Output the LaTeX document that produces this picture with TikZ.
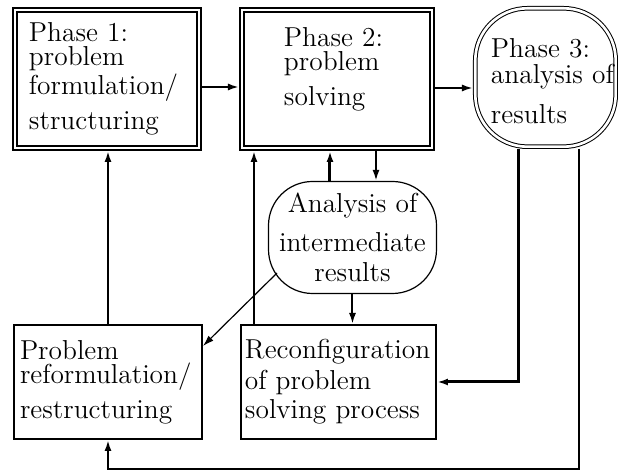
\documentclass[tikz,border=0pt]{standalone}
\usetikzlibrary{arrows.meta}

\begin{document}
\begin{tikzpicture}[x=0.5pt,y=-0.5pt,
		every node/.style={inner sep=0pt, font=\fontsize{13.7}{12}\selectfont},
		phasebox/.style={draw, double, line width=1pt, double distance=1pt, outer sep=1.5pt, align=left},
		stepbox/.style={draw, line width=1pt, align=left},
		arr/.style={-{Latex[length=5.5pt,width=3.5pt]}, line width=1pt},
		thickarr/.style={arr, line width=1.5pt},
		thinarr/.style={arr, line width=0.6pt}]
		\lineskiplimit=-20pt
		\useasboundingbox (0,0) rectangle (618,470);

		% Phases
		\node[phasebox, minimum width=92pt, minimum height=69pt, text width=78pt] (phaseone) at (107,79)
			{Phase 1:\\problem\\[0.5pt]formulation/\\[4pt]structuring};
		\node[phasebox, line width=1.1pt, double distance=0.9pt, minimum width=95pt, minimum height=69pt, text width=53pt, text depth=42pt] (phasetwo) at (337,79)
			{Phase 2:\\problem\\[4.5pt]solving};
		\node[phasebox, line width=0.5pt, double distance=1.3pt, outer sep=1.15pt, rounded corners=26pt, minimum width=70.2pt, minimum height=69.2pt, text width=54.5pt, text depth=29.5pt] (phasethree) at (545.5,77.5)
			{Phase 3:\\[1pt]analysis~of\\[6.5pt]results};

		% Intermediate analysis and feedback boxes
		\node[draw, line width=0.6pt, rounded corners=22pt, align=center, minimum width=84pt, minimum height=56pt, text width=80pt] (interim) at (352.5,237.5)
			{Analysis of\\[6pt]intermediate\\[3pt]results};
		\node[stepbox, minimum width=94pt, minimum height=57pt, text width=88pt] (reform) at (108,382)
			{Problem\\reformulation/\\[4pt]restructuring};
		\node[stepbox, minimum width=97.5pt, minimum height=57pt, text width=93.5pt] (reconf) at (338.5,382)
			{Reconfiguration\\[2pt]of problem\\[1.5pt]solving process};

		% Main flow
		\draw[arr] ([yshift=-4pt]phaseone.east) -- ([yshift=-4pt]phaseone.east -| phasetwo.west);
		\draw[arr] ([yshift=-4.5pt]phasetwo.east) -- ([yshift=-4.5pt]phasetwo.east -| phasethree.west);

		% Loop through intermediate analysis
		\draw[thickarr] ([xshift=-11.25pt]interim.north) -- ([xshift=-11.25pt]interim.north |- phasetwo.south);
		\draw[arr] ([xshift=11.75pt]interim.north |- phasetwo.south) -- ([xshift=11.75pt]interim.north);
		\draw[arr] (interim.south) -- (interim.south |- reconf.north);
		\draw[thinarr] ([shift={(9,-21)}]interim.south west) -- ([yshift=-11pt]reform.north east);

		% Feedback
		\draw[arr] (reform.north) -- (reform.north |- phaseone.south);
		\draw[arr] ([xshift=7pt]reconf.north west) -- ([xshift=7pt]reconf.north west |- phasetwo.south);
		\draw[thickarr] ([xshift=-13.25pt]phasethree.south) |- (reconf.east);
		\draw[arr] ([xshift=16.75pt]phasethree.south) |- ([yshift=-14.5pt]reform.south) -- (reform.south);
	\end{tikzpicture}
\end{document}
